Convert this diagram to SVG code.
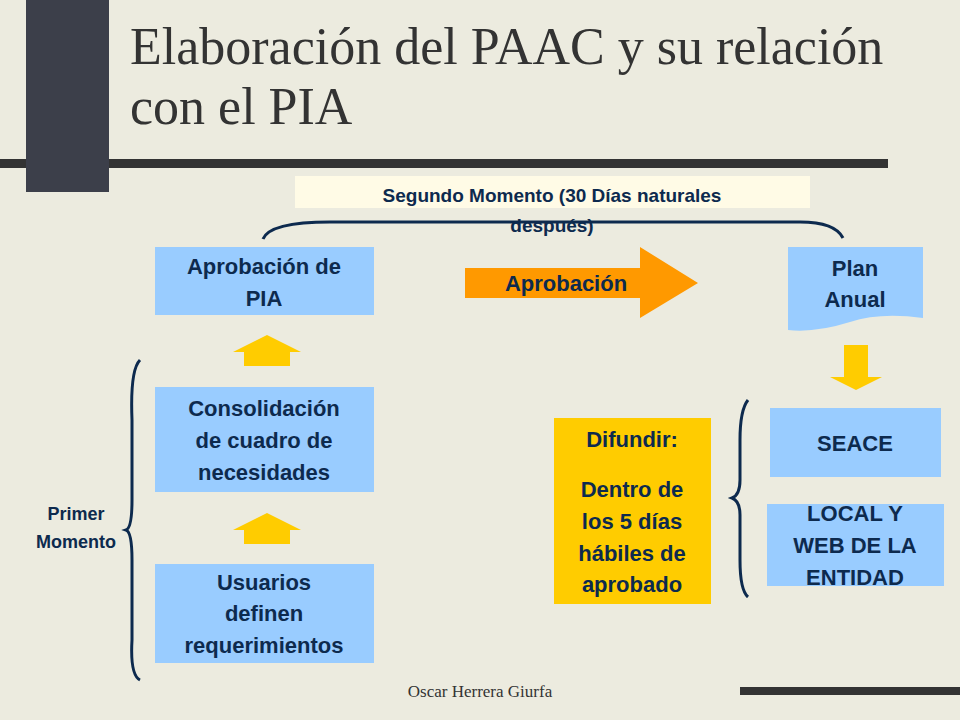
<svg xmlns="http://www.w3.org/2000/svg" width="960" height="720" viewBox="0 0 960 720">
<style>
.t{font-family:"Liberation Sans",Arial,sans-serif;font-weight:bold;fill:#0d2a4e;text-anchor:middle}
.b{fill:#99ccff}
.y{fill:#ffcc00}
.c{fill:none;stroke:#0d2a4e;stroke-width:3}
</style>
<rect width="960" height="720" fill="#ecebdf"/>
<rect x="0" y="159" width="888" height="9" fill="#333"/>
<rect x="26" y="0" width="83" height="192" fill="#3c3f4a"/>
<rect x="740" y="687" width="220" height="8" fill="#333"/>
<text x="130" y="64" font-family="Liberation Serif,serif" font-size="52" fill="#333">Elaboración del PAAC y su relación</text>
<text x="130" y="124" font-family="Liberation Serif,serif" font-size="52" fill="#333">con el PIA</text>
<text x="480" y="697" font-family="Liberation Serif,serif" font-size="17" fill="#333" text-anchor="middle">Oscar Herrera Giurfa</text>
<g id="segundo"><rect x="295" y="176" width="515" height="32" fill="#fffbe6"/>
<text class="t" x="552" y="202" font-size="19">Segundo Momento (30 Días naturales</text>
<text class="t" x="552" y="232" font-size="19">después)</text></g>
<g id="connectors">
<path class="c" d="M263 239 Q270 222 330 222 L800 222 Q835 222 843 238"/>
<path class="c" d="M140 360 Q130 370 132 420 L132 500 Q132 528 126 530 Q132 532 132 560 L132 640 Q130 675 140 680"/>
<path class="c" d="M748 400 Q740 410 740 440 L740 480 Q740 495 732 498 Q740 501 740 515 L740 560 Q740 590 748 597"/>
<polygon class="y" points="233,352 267,335 301,352 290,352 290,366 244,366 244,352"/>
<polygon class="y" points="233,530 267,513 301,530 290,530 290,544 244,544 244,530"/>
<polygon class="y" points="844,345 868,345 868,377 882,377 856,390 830,377 844,377"/>
<polygon fill="#ff9900" points="465,268 640,268 640,247 698,283 640,318 640,298 465,298"/>
<text class="t" x="566" y="291" font-size="22">Aprobación</text>
</g>
<g id="pia"><rect class="b" x="155" y="247" width="219" height="68"/>
<text class="t" x="264" y="274" font-size="22">Aprobación de</text><text class="t" x="264" y="306" font-size="22">PIA</text></g>
<g id="consol"><rect class="b" x="155" y="387" width="219" height="105"/>
<text class="t" x="264" y="416" font-size="22">Consolidación</text><text class="t" x="264" y="448" font-size="22">de cuadro de</text><text class="t" x="264" y="480" font-size="22">necesidades</text></g>
<g id="usuarios"><rect class="b" x="155" y="564" width="219" height="99"/>
<text class="t" x="264" y="590" font-size="22">Usuarios</text><text class="t" x="264" y="621" font-size="22">definen</text><text class="t" x="264" y="653" font-size="22">requerimientos</text></g>
<g id="primer"><text class="t" x="76" y="520" font-size="18">Primer</text><text class="t" x="76" y="548" font-size="18">Momento</text></g>
<g id="plan"><path class="b" d="M788 247 L923 247 L923 318 Q880 312 850 322 Q815 333 788 330 Z"/>
<text class="t" x="855" y="276" font-size="22">Plan</text><text class="t" x="855" y="307" font-size="22">Anual</text></g>
<g id="difundir"><rect class="y" x="554" y="418" width="157" height="186"/>
<text class="t" x="632" y="447" font-size="22">Difundir:</text>
<text class="t" x="632" y="497" font-size="22">Dentro de</text><text class="t" x="632" y="529" font-size="22">los 5 días</text><text class="t" x="632" y="561" font-size="22">hábiles de</text><text class="t" x="632" y="592" font-size="22">aprobado</text></g>
<g id="seace"><rect class="b" x="770" y="408" width="171" height="69"/>
<text class="t" x="855" y="451" font-size="22">SEACE</text></g>
<g id="local"><rect class="b" x="767" y="504" width="177" height="82"/>
<text class="t" x="855" y="521" font-size="22">LOCAL  Y</text><text class="t" x="855" y="553" font-size="22">WEB DE LA</text><text class="t" x="855" y="585" font-size="22">ENTIDAD</text></g>
</svg>
